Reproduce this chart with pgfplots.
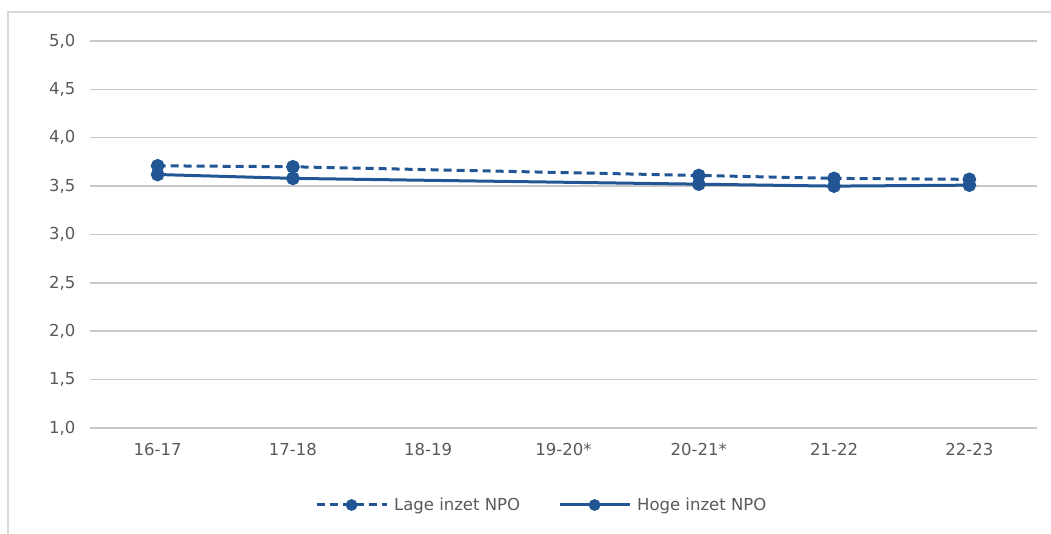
\documentclass[border=0pt]{standalone}
\usepackage{fontspec}
\setmainfont{DejaVu Sans}
\usepackage{pgfplots}
\pgfplotsset{compat=1.18}
\definecolor{lineblue}{RGB}{33,85,148}
\definecolor{gridgray}{RGB}{200,200,200}
\definecolor{txtgray}{RGB}{89,89,89}
\definecolor{framegray}{RGB}{217,217,217}
\begin{document}
\begin{tikzpicture}
\path[use as bounding box] (0,0) rectangle (1051pt,534pt);
\draw[framegray, line width=1.5pt] (8pt,-1pt) -- (8pt,522pt) -- (1052pt,522pt);
\begin{axis}[
  at={(90pt,106pt)}, anchor=south west,
  scale only axis, width=947pt, height=387pt,
  xmin=-0.5, xmax=6.5, ymin=1, ymax=5,
  xtick={0,...,6},
  xticklabels={16-17,17-18,18-19,19-20*,20-21*,21-22,22-23},
  ytick={1,1.5,...,5},
  /pgf/number format/fixed, /pgf/number format/fixed zerofill,
  /pgf/number format/precision=1, /pgf/number format/use comma,
  /pgf/number format/assume math mode=true,
  ymajorgrids, grid style={gridgray, line width=1.5pt},
  axis line style={draw=none},
  major tick length=0pt,
  tick label style={font=\fontsize{16.5}{19}\selectfont, text=txtgray},
  yticklabel style={xshift=-11pt},
  xticklabel style={yshift=-12pt},
  legend style={at={(0.477,0)}, anchor=center, yshift=-77pt, draw=none, fill=none,
    font=\fontsize{16.5}{19}\selectfont, text=txtgray, legend columns=2,
    /tikz/every odd column/.append style={column sep=4pt},
    /tikz/every even column/.append style={column sep=36pt}},
  legend image code/.code={\draw[mark repeat=2,mark phase=2,#1, mark size=4.3pt] plot coordinates {(0pt,0pt) (35pt,0pt) (70pt,0pt)};},
  clip=false,
]
\addplot[lineblue, line width=3pt, dash pattern=on 8pt off 5pt, mark=*, mark size=5.3pt, mark options={solid}]
  coordinates {(0,3.71) (1,3.70) (4,3.61) (5,3.58) (6,3.57)};
\addlegendentry{Lage inzet NPO}
\addplot[lineblue, line width=3pt, mark=*, mark size=5.3pt]
  coordinates {(0,3.62) (1,3.58) (4,3.52) (5,3.50) (6,3.51)};
\addlegendentry{Hoge inzet NPO}
\end{axis}
\end{tikzpicture}
\end{document}
